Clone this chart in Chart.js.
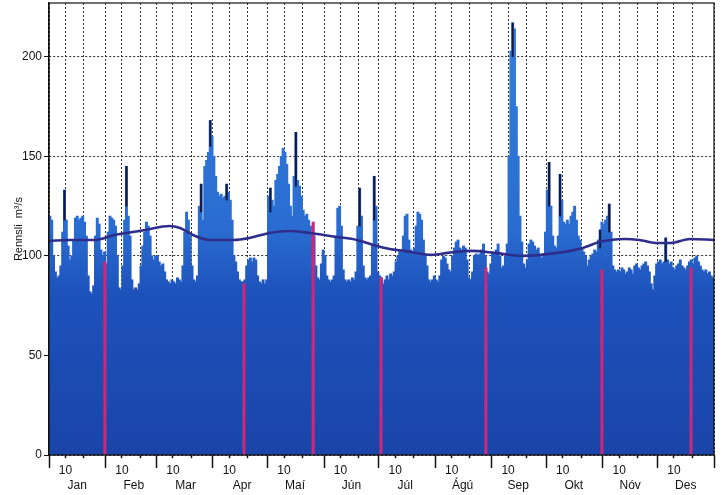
<!DOCTYPE html>
<html>
<head>
  <meta charset="utf-8">
  <title>Rennsli</title>
  <script src="https://cdn.jsdelivr.net/npm/chart.js@4.4.1/dist/chart.umd.min.js"></script>
  <style>
    html, body { margin: 0; padding: 0; background: #fff; }
    #wrap { width: 726px; height: 495px; position: relative; }
  </style>
</head>
<body>
<div id="wrap"><canvas id="flow-chart"></canvas></div>
<script>
  // month labels and first day index of each month
  var monthNames = ['Jan', 'Feb', 'Mar', 'Apr', 'Maí', 'Jún', 'Júl', 'Ágú', 'Sep', 'Okt', 'Nóv', 'Des'];
  var monthStart = [0, 31, 59, 90, 120, 151, 181, 212, 243, 273, 304, 334];
  var monthMid = [15.5, 46.5, 75, 106, 135, 166, 195.5, 227, 257.5, 288, 319, 349.5];
  var yTicks = [0, 50, 100, 150, 200];

  // highest daily flow (m3/s)
  var jan = [120,118,100,92,89,90,95,112,133,118,105,98,100,108,119,120,118,119,120,117,110,90,82,81,85,110,119,116,103,100,102];
  var feb = [96,112,120,119,118,115,100,84,83,95,118,145,120,110,88,83,84,83,86,95,105,112,117,115,110,100,98,100];
  var mar = [100,97,95,96,92,88,87,86,88,87,86,89,88,87,95,112,122,118,110,95,88,87,90,125,136,118,145,148,152,168,160];
  var apr = [150,140,132,130,131,129,130,136,132,128,118,100,97,92,88,87,87,88,95,98,99,97,99,98,90,87,86,88,86,88];
  var mai = [130,134,128,125,138,141,145,150,154,152,146,136,125,120,140,162,138,135,130,123,120,121,118,115,112,110,95,89,88,96,103];
  var jun = [100,90,88,87,88,90,110,124,125,115,93,88,87,88,87,89,88,92,115,134,120,95,89,88,89,90,105,140,125,92];
  var jul = [90,89,86,88,90,88,91,90,92,97,100,103,102,110,120,121,108,103,102,104,115,122,121,118,108,100,95,88,87,88,90];
  var agu = [88,87,90,98,100,99,96,93,92,100,104,107,108,104,103,105,104,98,89,88,92,100,101,100,101,103,106,100,92,91,96];
  var sep = [102,101,103,106,100,94,95,100,106,150,203,217,214,175,150,120,107,96,94,98,106,108,107,105,103,104,100,99,101,112];
  var okt = [133,147,125,110,105,104,110,141,128,117,116,118,116,120,122,125,118,110,108,104,102,100,95,98,100,101,103,102,108,113,117];
  var nov = [116,118,120,126,112,95,93,92,93,92,94,93,91,92,94,93,91,95,96,94,93,95,96,97,95,92,86,83,90,96];
  var des = [97,98,96,97,109,98,96,97,94,93,95,96,98,95,94,93,95,97,98,96,99,100,97,95,93,92,93,91,92,90,89];

  // dark peak tips (single years)
  var spikeDay = [8, 42, 83, 88, 97, 121, 135, 170, 178, 254, 274, 280, 302, 307, 338];
  var spikeLow = [118, 125, 122, 155, 128, 122, 135, 115, 118, 200, 125, 120, 104, 112, 97];
  var spikeHigh = [133, 145, 136, 168, 136, 134, 162, 134, 140, 217, 147, 141, 113, 126, 109];

  // mean flow curve
  var meanDay = [0, 11.5, 25, 36, 53, 66, 72, 79, 88, 101, 110, 121, 132, 143, 158, 169, 178, 187, 195, 210, 219, 232, 245, 260, 279, 293, 302, 308, 316, 324, 333, 341, 352, 365];
  var meanFlow = [107.5, 108, 108, 110.5, 113, 115, 114, 110.5, 108, 108, 109, 111.5, 112.5, 111.5, 109.5, 108, 105.5, 103.5, 102.5, 100.5, 101.5, 102.5, 101.5, 100, 101.5, 104, 107, 108, 108.5, 108, 106.5, 106.5, 108.5, 108];

  // red markers
  var redDay = [30.7, 107, 145, 182.2, 239.8, 303.5, 352.4];
  var redTop = [97, 86, 117, 89, 94, 93, 94];

  var daily = jan.concat(feb, mar, apr, mai, jun, jul, agu, sep, okt, nov, des);
  var gridDays = [];
  monthStart.forEach(function (s) { gridDays.push(s, s + 9, s + 19); });
  gridDays.push(365);

  var barGrad = null;
  function blueFill(ctx) {
    var area = ctx.chart.chartArea;
    if (!area) return '#1f58c2';
    if (!barGrad) {
      barGrad = ctx.chart.ctx.createLinearGradient(0, area.bottom, 0, area.top);
      barGrad.addColorStop(0, '#1a44a8');
      barGrad.addColorStop(0.36, '#1d52bb');
      barGrad.addColorStop(0.5, '#2a6cd1');
      barGrad.addColorStop(1, '#3282dd');
    }
    return barGrad;
  }

  var frame = {
    id: 'frame',
    afterDraw: function (chart) {
      var a = chart.chartArea, c = chart.ctx;
      c.save();
      c.strokeStyle = '#111';
      c.lineWidth = 1.2;
      c.strokeRect(a.left, a.top, a.right - a.left, a.bottom - a.top);
      c.restore();
    }
  };

  // no extra room for the edge labels
  function noPad(s) { s.paddingTop = 0; s.paddingBottom = 0; s.paddingLeft = 0; s.paddingRight = 0; }

  var font = { family: '"Liberation Sans", Arial, sans-serif', size: 12 };

  new Chart(document.getElementById('flow-chart'), {
    type: 'bar',
    data: {
      datasets: [
        {
          type: 'line',
          data: meanDay.map(function (d, i) { return { x: d, y: meanFlow[i] }; }),
          borderColor: '#2e2d8c',
          borderWidth: 2.6,
          pointRadius: 0,
          cubicInterpolationMode: 'monotone',
          order: 0
        },
        {
          data: redDay.map(function (d, i) { return { x: d, y: redTop[i] }; }),
          backgroundColor: '#c8297a',
          barThickness: 2.5,
          grouped: false,
          order: 1
        },
        {
          data: spikeDay.map(function (d, i) { return { x: d + 0.5, y: [spikeLow[i], spikeHigh[i]] }; }),
          backgroundColor: '#15173f',
          barThickness: 1.4,
          grouped: false,
          order: 2
        },
        {
          data: daily.map(function (v, i) { return { x: i + 0.5, y: v }; }),
          backgroundColor: blueFill,
          borderWidth: 0,
          barThickness: 2.3,
          grouped: false,
          order: 3
        }
      ]
    },
    options: {
      responsive: true,
      maintainAspectRatio: false,
      animation: false,
      layout: { padding: { top: 3, right: 12, left: 0, bottom: 0 } },
      plugins: { legend: { display: false }, tooltip: { enabled: false } },
      scales: {
        x: {
          type: 'linear',
          min: 0,
          max: 365,
          offset: false,
          afterBuildTicks: function (s) { s.ticks = gridDays.map(function (d) { return { value: d }; }); },
          afterFit: function (s) { s.height = 20; noPad(s); },
          grid: {
            offset: false,
            color: '#333',
            lineWidth: 1,
            tickLength: 13,
            tickColor: '#111',
            tickWidth: 1.5,
            tickBorderDash: function (c) {
              return c.tick && monthStart.concat([365]).indexOf(c.tick.value) >= 0 ? [] : [3, 40];
            }
          },
          border: { display: true, color: '#111', width: 1.2, dash: [2, 2] },
          ticks: {
            autoSkip: false,
            maxRotation: 0,
            padding: -5,
            color: '#111',
            font: font,
            callback: function (v) {
              return monthStart.some(function (s) { return s + 9 === v; }) ? '10' : '';
            }
          }
        },
        x2: {
          type: 'linear',
          position: 'bottom',
          min: 0,
          max: 365,
          offset: false,
          afterBuildTicks: function (s) { s.ticks = monthMid.map(function (d) { return { value: d }; }); },
          afterFit: function (s) { s.height = 20; noPad(s); },
          grid: { display: false },
          border: { display: false },
          ticks: {
            autoSkip: false,
            maxRotation: 0,
            padding: -5,
            color: '#111',
            font: font,
            callback: function (v, i) { return monthNames[i]; }
          }
        },
        y: {
          min: 0,
          max: 227,
          afterBuildTicks: function (s) { s.ticks = yTicks.map(function (v) { return { value: v }; }); },
          afterFit: function (s) { s.width = 49; noPad(s); },
          grid: { color: '#333', lineWidth: 1, tickLength: 5, tickColor: '#111' },
          border: { display: true, color: '#111', width: 1.2, dash: [2, 2] },
          ticks: { padding: 2, color: '#111', font: font },
          title: {
            display: true,
            text: 'Rennsli  m³/s',
            color: '#111',
            font: { family: '"Liberation Sans", Arial, sans-serif', size: 11 },
            padding: { top: 12, bottom: 0 }
          }
        }
      }
    },
    plugins: [frame]
  });
</script>
</body>
</html>
